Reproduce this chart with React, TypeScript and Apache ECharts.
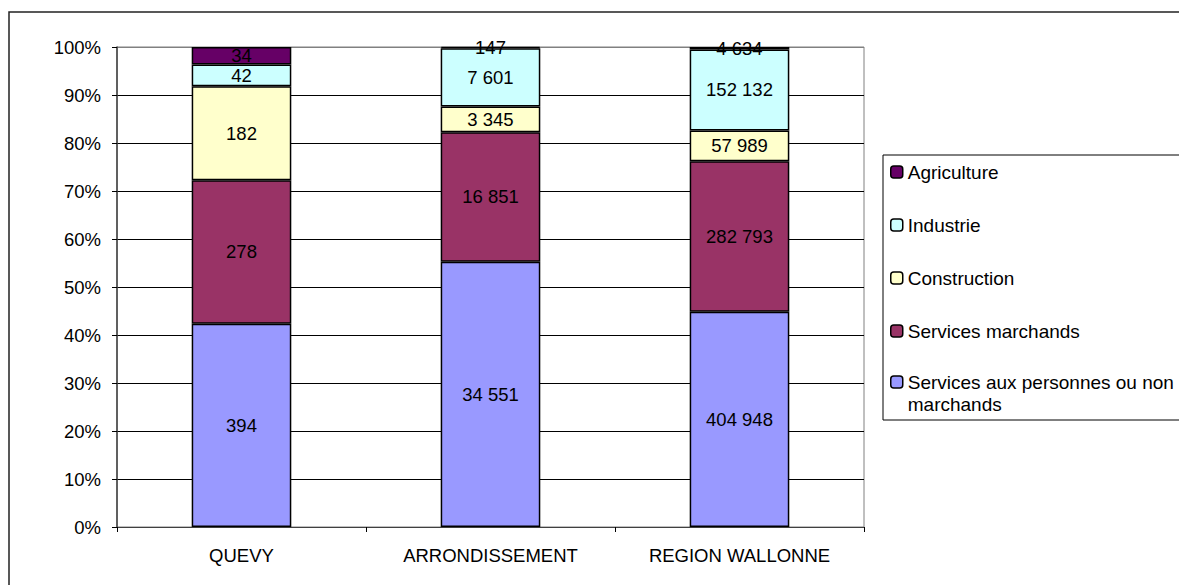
import React, { useEffect, useRef } from "react";
import * as echarts from "echarts";

const categories = ["QUEVY", "ARRONDISSEMENT", "REGION WALLONNE"];
const servicesPersonnes = [394, 34551, 404948];
const servicesMarchands = [278, 16851, 282793];
const construction = [182, 3345, 57989];
const industrie = [42, 7601, 152132];
const agriculture = [34, 147, 4634];
const yTicks = [0, 10, 20, 30, 40, 50, 60, 70, 80, 90, 100];

const seriesDefs = [
  { name: "Services aux personnes ou non marchands", values: servicesPersonnes, color: "#9999FF" },
  { name: "Services marchands", values: servicesMarchands, color: "#993366" },
  { name: "Construction", values: construction, color: "#FFFFCC" },
  { name: "Industrie", values: industrie, color: "#CCFFFF" },
  { name: "Agriculture", values: agriculture, color: "#660066" },
];

const FONT = "'Liberation Sans', Arial, sans-serif";
const FS = 18.5;
const LFS = 19;

function fmt(n: number): string {
  return String(n).replace(/\B(?=(\d{3})+(?!\d))/g, " ");
}

export default function App() {
  const ref = useRef<HTMLDivElement>(null);

  useEffect(() => {
    if (!ref.current) return;
    const chart = echarts.init(ref.current, undefined, { renderer: "svg" });
    const totals = categories.map((_, i) =>
      seriesDefs.reduce((s, d) => s + d.values[i], 0)
    );

    const series = seriesDefs.map((d) => ({
      name: d.name,
      type: "bar",
      stack: "total",
      barCategoryGap: "60%",
      data: d.values.map((v, i) => ({ value: (v / totals[i]) * 100, raw: v })),
      itemStyle: { color: d.color, borderColor: "#000", borderWidth: 1.5 },
      label: {
        show: true,
        position: "inside",
        color: "#000",
        fontSize: FS,
        fontFamily: FONT,
        formatter: (p: any) => fmt(p.data.raw),
      },
    }));

    const splitColors = yTicks.map((t) => (t === 100 ? "#808080" : "#000"));

    chart.setOption({
      animation: false,
      backgroundColor: "#fff",
      textStyle: { fontFamily: FONT },
      grid: {
        left: 117,
        top: 47,
        right: 315,
        bottom: 58,
        show: true,
        borderColor: "#808080",
        borderWidth: 1,
      },
      xAxis: {
        type: "category",
        data: categories,
        axisLine: { lineStyle: { color: "#404040", width: 1 } },
        axisTick: { show: true, length: 5, lineStyle: { color: "#000" } },
        axisLabel: { color: "#000", fontSize: FS, fontFamily: FONT, margin: 19 },
      },
      yAxis: {
        type: "value",
        min: 0,
        max: 100,
        interval: 10,
        axisLine: { show: true, lineStyle: { color: "#404040", width: 1.5 } },
        axisTick: { show: true, length: 5, lineStyle: { color: "#000" } },
        axisLabel: {
          color: "#000",
          fontSize: FS,
          fontFamily: FONT,
          margin: 16,
          formatter: "{value}%",
        },
        splitLine: { show: true, lineStyle: { color: splitColors, width: 1 } },
      },
      legend: [
        {
          orient: "vertical",
          left: 890,
          top: 161,
          padding: 0,
          itemGap: 31,
          itemWidth: 12,
          itemHeight: 12,
          selectedMode: false,
          data: ["Agriculture", "Industrie", "Construction", "Services marchands"],
          textStyle: { color: "#000", fontSize: LFS, fontFamily: FONT, lineHeight: 22 },
          itemStyle: { borderColor: "#000", borderWidth: 1.5 },
        },
        {
          orient: "vertical",
          left: 890,
          top: 349,
          padding: 0,
          itemWidth: 12,
          itemHeight: 12,
          selectedMode: false,
          data: ["Services aux personnes ou non marchands"],
          formatter: () => "\nServices aux personnes ou non\nmarchands",
          textStyle: { color: "#000", fontSize: LFS, fontFamily: FONT, lineHeight: 22 },
          itemStyle: { borderColor: "#000", borderWidth: 1.5 },
        },
      ],
      graphic: [
        {
          type: "rect",
          silent: true,
          shape: { x: 9, y: 12, width: 1300, height: 700 },
          style: { fill: "none", stroke: "#222", lineWidth: 1.5 },
        },
        {
          type: "rect",
          silent: true,
          shape: { x: 883, y: 155, width: 320, height: 265 },
          style: { fill: "none", stroke: "#000", lineWidth: 1 },
        },
      ],
      series,
    });

    return () => chart.dispose();
  }, []);

  return (
    <div
      ref={ref}
      style={{ position: "fixed", left: 0, top: 0, width: 1179, height: 585 }}
    />
  );
}
